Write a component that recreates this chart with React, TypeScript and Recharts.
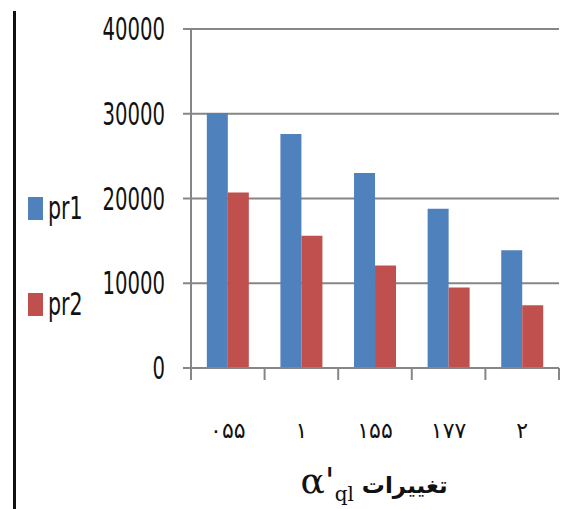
import { BarChart, Bar, XAxis, YAxis, CartesianGrid, Legend } from "recharts"

// categories (Persian digits, as in the source)
const CATEGORIES = ["۰۵۵", "۱", "۱۵۵", "۱۷۷", "۲"]
const PR1 = [30100, 27600, 23000, 18800, 13900]
const PR2 = [20700, 15600, 12100, 9500, 7400]
const Y_TICKS = [0, 10000, 20000, 30000, 40000]

const BLUE = "#4F81BD"
const RED = "#C0504D"
const GRID = "#868686"
const NARROW = "'Liberation Sans Narrow', 'DejaVu Sans Condensed', sans-serif"

const data = CATEGORIES.map((c, i) => ({ name: c, pr1: PR1[i], pr2: PR2[i] }))

function YTick(props: any) {
  const { x, y, payload } = props
  return (
    <g transform={`translate(${x},${y}) scale(0.84,1.26)`}>
      <text
        x={0}
        y={0}
        textAnchor="end"
        dominantBaseline="central"
        fontFamily={NARROW}
        fontSize={26}
        fill="#111"
      >
        {payload.value}
      </text>
    </g>
  )
}

function XTick(props: any) {
  const { x, y, payload, index, visibleTicksCount } = props
  const half = payload.offset || 0
  const last = index === (visibleTicksCount ?? CATEGORIES.length) - 1
  return (
    <g>
      <line x1={x - half} x2={x - half} y1={y} y2={y + 12} stroke={GRID} strokeWidth={2} />
      {last && <line x1={x + half} x2={x + half} y1={y} y2={y + 12} stroke={GRID} strokeWidth={2} />}
      <text
        x={x}
        y={y + 62}
        textAnchor="middle"
        dominantBaseline="central"
        fontFamily="'DejaVu Serif', 'DejaVu Sans', serif"
        fontSize={22}
        fill="#111"
      >
        {payload.value}
      </text>
    </g>
  )
}

function LegendBox(props: any) {
  const items = props.payload || []
  return (
    <div>
      {items.map((it: any, i: number) => (
        <div
          key={it.value}
          style={{ display: "flex", alignItems: "center", height: 24, marginBottom: i === 0 ? 72 : 0 }}
        >
          <div style={{ width: 15, height: 23, background: it.color, marginRight: 5 }} />
          <span
            style={{
              fontFamily: NARROW,
              fontSize: 26,
              color: "#111",
              display: "inline-block",
              transform: "scale(0.88,1.25)",
              transformOrigin: "left center",
              lineHeight: "24px",
            }}
          >
            {it.value}
          </span>
        </div>
      ))}
    </div>
  )
}

function AxisTitle() {
  return (
    <text
      x={374}
      y={493}
      textAnchor="middle"
      fontFamily="'DejaVu Sans', serif"
      fontWeight="bold"
      fontSize={23}
      fill="#111"
    >
      <tspan fontFamily="'DejaVu Serif', serif" fontSize={36} fontWeight="normal">α'</tspan>
      <tspan fontSize={20} dy={8} fontFamily="'DejaVu Serif', serif" fontWeight="normal">ql</tspan>
      <tspan dy={-8}> تغییرات</tspan>
    </text>
  )
}

export default function App() {
  return (
    <div style={{ position: "absolute", left: 0, top: 0, width: 574, height: 509, background: "#fff" }}>
      <div
        style={{ position: "absolute", left: 13, top: 11, width: 3, height: 498, background: "#111" }}
      />
      <BarChart
        width={574}
        height={509}
        data={data}
        margin={{ top: 29, right: 15, bottom: 0, left: 0 }}
        barCategoryGap="21.5%"
        barGap={0}
      >
        <CartesianGrid vertical={false} stroke={GRID} strokeWidth={2} />
        <XAxis
          dataKey="name"
          height={141}
          axisLine={{ stroke: GRID, strokeWidth: 2 }}
          tickLine={false}
          tickSize={0}
          tickMargin={0}
          tick={<XTick />}
          interval={0}
        />
        <YAxis
          width={191}
          domain={[0, 40000]}
          ticks={Y_TICKS}
          axisLine={{ stroke: GRID, strokeWidth: 2 }}
          tickLine={{ stroke: GRID, strokeWidth: 2 }}
          tickSize={8}
          tickMargin={18}
          tick={<YTick />}
        />
        <Legend
          layout="vertical"
          align="center"
          verticalAlign="middle"
          content={<LegendBox />}
          wrapperStyle={{ left: 28, top: 196, width: 80 }}
        />
        <Bar dataKey="pr1" name="pr1" fill={BLUE} isAnimationActive={false} />
        <Bar dataKey="pr2" name="pr2" fill={RED} isAnimationActive={false} />
        <AxisTitle />
      </BarChart>
    </div>
  )
}
